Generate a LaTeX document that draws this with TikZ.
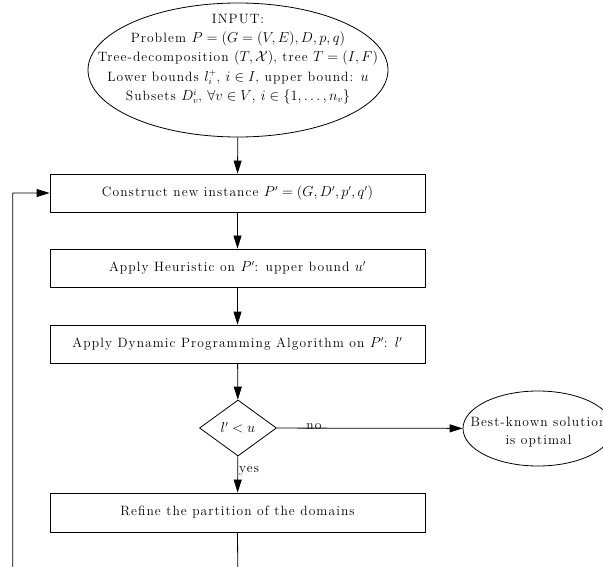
\documentclass[tikz,border=0pt]{standalone}
\usepackage{amsmath,amssymb}
\usepackage{fontspec}
\setmainfont{Latin Modern Roman}[LetterSpace=8]
\usetikzlibrary{shapes.geometric,arrows.meta}
\begin{document}
\begin{tikzpicture}[x=1pt,y=1pt,
  every node/.style={font=\fontsize{13.5}{19.3}\selectfont},
  conn/.style={line width=0.8pt},
  arr/.style={conn,-{Triangle[length=13pt,width=8pt]}},
  stepbox/.style={draw,line width=0.8pt,minimum width=375pt,minimum height=38pt,inner sep=0pt},
  ovalbox/.style={draw,ellipse,line width=0.8pt,inner sep=0pt},
  ovaltext/.style={align=center,inner sep=0pt},
  decide/.style={draw,diamond,line width=0.8pt,inner sep=0pt,minimum width=77pt,minimum height=56pt,aspect=1.375},
  lbl/.style={inner sep=1pt}]
\useasboundingbox (0,0) rectangle (603,-567);
\clip (0,0) rectangle (603,-567);
\node[ovalbox,minimum width=300pt,minimum height=134pt] (input) at (238,-70) {};
\node[ovaltext] (inputtext) at (238,-59)
  {INPUT:\\
  Problem $P=(G=(V,E),D,p,q)$\\
  Tree-decomposition $(T,\mathcal{X})$, tree $T=(I,F)$\\
  Lower bounds $l_i^+$, $i\in I$, upper bound: $u$\\
  Subsets $D_v^i$, $\forall v\in V$, $i\in\{1,\ldots,n_v\}$};
\node[stepbox] (construct) at (237.5,-193) {Construct new instance $P'=(G,D',p',q')$};
\node[stepbox] (heur) at (237.5,-268) {Apply Heuristic on $P'$: upper bound $u'$};
\node[stepbox] (dp) at (237.5,-344) {Apply Dynamic Programming Algorithm on $P'$: $l'$};
\node[decide] (test) at (238,-428) {$l'<u$};
\node[ovalbox,minimum width=150pt,minimum height=75pt] (opt) at (538,-428.5) {};
\node[ovaltext,font=\fontsize{13.5}{18.5}\selectfont] (opttext) at (538.5,-432)
  {Best-known solution\\is optimal};
\node[stepbox,minimum height=39pt] (refine) at (237.5,-512.5) {Refine the partition of the domains};
\coordinate (loopb) at (238,-600);
\coordinate (loopc) at (12.7,-600);
\draw[arr] (input) -- (construct);
\draw[arr] (construct) -- (heur);
\draw[arr] (heur) -- (dp);
\draw[arr] (dp) -- (test);
\draw[arr] (test) -- node[lbl,pos=0.2,above=-3pt] {no} (opt);
\draw[arr] (test) -- node[lbl,right,pos=0.4] {yes} (refine);
\draw[arr] (refine.south) -- (loopb) -- (loopc) |- (construct.west);
\end{tikzpicture}
\end{document}
